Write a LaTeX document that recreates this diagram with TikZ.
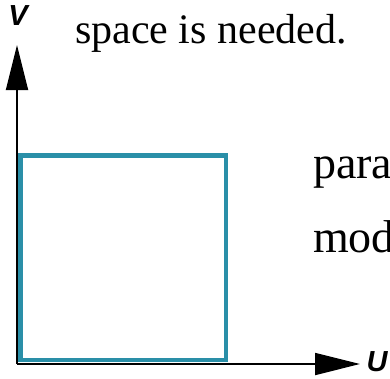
\documentclass[tikz,border=0pt]{standalone}
\usepackage{fontspec}
\setmainfont{Liberation Serif}
\setsansfont{Liberation Sans}
\usetikzlibrary{arrows.meta,positioning}
\definecolor{regionteal}{HTML}{2A8FA8}

\begin{document}
\begin{tikzpicture}[
    x=1pt, y=-1pt,
    axis/.style={draw, line width=1.8pt, -{Triangle[length=45pt, width=22pt]}},
    region/.style={draw=regionteal, line width=4.5pt},
    axlabel/.style={font=\sffamily\bfseries\itshape\fontsize{29}{32}\selectfont, inner sep=0pt},
    body/.style={font=\fontsize{42}{48}\selectfont, inner sep=0pt, anchor=base west},
    side/.style={font=\fontsize{46}{52}\selectfont, inner sep=0pt, anchor=base west}
]
\useasboundingbox (0,0) rectangle (390,378);

% Square region in the (u,v) plane
\coordinate (sqA) at (20.5,155.5);
\coordinate (sqB) at (226,360);
\draw[region] (sqA) rectangle (sqB);

% Axes
\coordinate (origin) at (17,364);
\coordinate (vtip) at (17,45);
\coordinate (utip) at (360,364);
\draw[axis] (origin) -- (vtip);
\draw[axis] (origin) -- (utip);
\node[axlabel] (vlabel) at (18,16) {V};
\node[axlabel] (ulabel) at (377,362) {U};

% Running text around the figure
\node[body] (needed) at (75,43) {space is needed.};
\node[side] (para) at (313,178) {para};
\node[side] (mod) at (313,252) {mod};

\end{tikzpicture}
\end{document}
